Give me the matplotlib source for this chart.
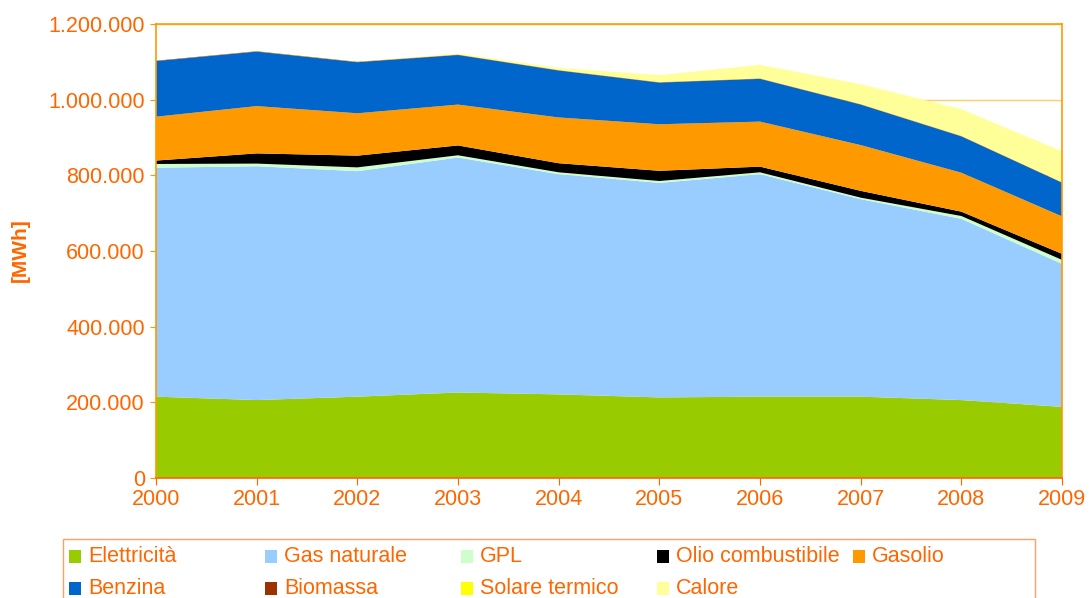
import numpy as np
import matplotlib
matplotlib.use("Agg")
import matplotlib.pyplot as plt
from matplotlib.patches import Rectangle
from matplotlib.ticker import FuncFormatter

plt.rcParams['font.family'] = ['Liberation Sans', 'DejaVu Sans']

# consumi per vettore energetico [MWh]
anni = [2000, 2001, 2002, 2003, 2004, 2005, 2006, 2007, 2008, 2009]
elettricita = [215000, 206000, 215000, 226000, 221000, 213000, 215000, 215000, 206000, 188000]
gas_naturale = [605000, 618000, 596000, 621000, 582000, 567000, 588000, 522000, 479000, 378000]
gpl = [10000, 7000, 10000, 6000, 5000, 5000, 5000, 4000, 7500, 10500]
olio = [9000, 27000, 31000, 26000, 24000, 27000, 15000, 18000, 11500, 16000]
gasolio = [116000, 125000, 112000, 108000, 121000, 123000, 119000, 121000, 103000, 99000]
benzina = [147000, 144000, 135000, 131000, 124000, 110000, 113000, 107000, 96000, 89000]
biomassa = [1000, 1000, 1000, 1000, 1000, 1000, 1000, 1000, 1000, 1000]
solare = [0, 500, 500, 1000, 1000, 1000, 1000, 1000, 1000, 1000]
calore = [0, 0, 0, 2000, 5000, 18000, 35000, 52000, 70000, 81000]

nomi = ["Elettricità", "Gas naturale", "GPL", "Olio combustibile", "Gasolio",
        "Benzina", "Biomassa", "Solare termico", "Calore"]
colori = ["#99CC00", "#99CCFF", "#CCFFCC", "#000000", "#FF9900",
          "#0066CC", "#993300", "#FFFF00", "#FFFF99"]

arancio = "#FF6600"

fig = plt.figure(figsize=(10.89, 5.98), dpi=100)
ax = fig.add_axes([156 / 1089, 1 - 478 / 598, (1062 - 156) / 1089, (478 - 24) / 598])

ax.stackplot(anni, elettricita, gas_naturale, gpl, olio, gasolio, benzina,
             biomassa, solare, calore, colors=colori, linewidth=0, zorder=2)

ax.set_xlim(2000, 2009)
ax.set_ylim(0, 1200000)
ax.set_xticks(anni)
ax.set_yticks(np.arange(0, 1200001, 200000))
ax.yaxis.set_major_formatter(FuncFormatter(lambda v, p: f"{int(v):,}".replace(",", ".")))
ax.grid(axis="y", color="#FFCC66", linewidth=1, zorder=0)
ax.set_axisbelow(True)

ax.tick_params(axis="both", colors=arancio, labelsize=15.5, labelcolor=arancio)
ax.tick_params(axis="y", length=4, color="#FF9900", pad=4)
ax.tick_params(axis="x", length=5, pad=3)
ax.spines["left"].set_color("#FF9900")
ax.spines["bottom"].set_color(arancio)
ax.spines["top"].set_color("#FF9900")
ax.spines["right"].set_color("#FF9900")
for s in ax.spines.values():
    s.set_linewidth(1.2)

fig.text(20 / 1089, 1 - 250 / 598, "[MWh]", rotation=90, color=arancio,
         fontsize=15, fontweight="bold", ha="center", va="center")

# legenda a colonne uguali come in Excel
fig.add_artist(Rectangle((63 / 1089, -0.02), (1035 - 63) / 1089, 1 - 539 / 598 + 0.02,
                         transform=fig.transFigure, facecolor="white",
                         edgecolor="#FFA060", linewidth=1))
for i, (nome, col) in enumerate(zip(nomi, colori)):
    cx = (69 + 196 * (i % 5)) / 1089
    cy = 1 - (556 + 32 * (i // 5)) / 598
    fig.add_artist(Rectangle((cx, cy - 6.5 / 598), 12 / 1089, 13 / 598,
                             transform=fig.transFigure, facecolor=col, linewidth=0))
    fig.text(cx + 19 / 1089, cy, nome, color=arancio, fontsize=15.5,
             ha="left", va="center")

fig.savefig("out.png", dpi=100)
